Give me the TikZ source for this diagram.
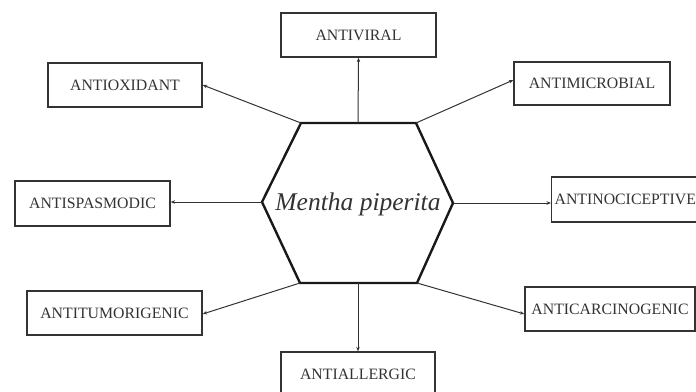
\documentclass[tikz,border=0pt]{standalone}
\usepackage{fontspec}
\setmainfont{Liberation Serif}
\usetikzlibrary{arrows.meta}

\definecolor{inkgray}{HTML}{333333}
\definecolor{edgegray}{HTML}{333333}

\begin{document}
\begin{tikzpicture}[x=1pt, y=-1pt,
    effect/.style={draw=edgegray, line width=1.3pt, inner sep=0pt,
      minimum width=155pt, minimum height=44pt, text=inkgray,
      font=\fontsize{15.8}{18}\selectfont},
    link/.style={draw=edgegray, line width=1pt,
      -{Stealth[length=4.5pt, width=3.5pt]}}]
  %% the page is as large as the picture
  \clip (0,0) rectangle (696,391);

  %% corners of the hexagon
  \coordinate (hl) at (262,202);
  \coordinate (htl) at (301,123);
  \coordinate (htr) at (416,123);
  \coordinate (hr) at (453,203);
  \coordinate (hbr) at (417,283);
  \coordinate (hbl) at (300,283);
  \coordinate (htop) at (358,123);
  \coordinate (hbot) at (358,283);
  \draw [line width=2.4pt, line join=miter, draw=black!90]
    (hl) -- (htl) -- (htr) -- (hr) -- (hbr) -- (hbl) -- cycle;
  \node (mp) at (358,204) [text=inkgray, font=\fontsize{25.5}{30}\selectfont\itshape]
    {Mentha piperita};

  %% the boxes round it
  \node (viral) at (358.5,35) [effect] {ANTIVIRAL};
  \node (oxid) at (125,85) [effect, minimum width=154pt] {ANTIOXIDANT};
  \node (micro) at (592,83.5) [effect, minimum width=156pt, minimum height=43pt] {ANTIMICROBIAL};
  \node (spasm) at (92.5,203.5) [effect, minimum height=45pt] {ANTISPASMODIC};
  \node (noci) at (551,199.5) [effect, anchor=west, minimum width=152pt, minimum height=45pt,
    text width=146pt, align=left, inner xsep=3pt] {ANTINOCICEPTIVE};
  \node (tumor) at (114.5,313) [effect, minimum width=175pt] {ANTITUMORIGENIC};
  \node (carc) at (610,309) [effect, minimum width=170pt] {ANTICARCINOGENIC};
  \node (allerg) at (358,374) [effect, minimum width=154pt] {ANTIALLERGIC};

  %% arrows from the hexagon
  \draw [link] (htop) -- (viral.south);
  \draw [link] (htl) -- (oxid.east);
  \draw [link] (htr) -- ([yshift=3.5pt]micro.west);
  \draw [link] (hl) -- (spasm.east |- hl);
  \draw [link] (hr) -- (noci.west |- hr);
  \draw [link] (hbl) -- ([yshift=-1pt]tumor.east);
  \draw [link] (hbr) -- ([yshift=-5pt]carc.west);
  \draw [link] (hbot) -- (allerg.north);
\end{tikzpicture}
\end{document}
